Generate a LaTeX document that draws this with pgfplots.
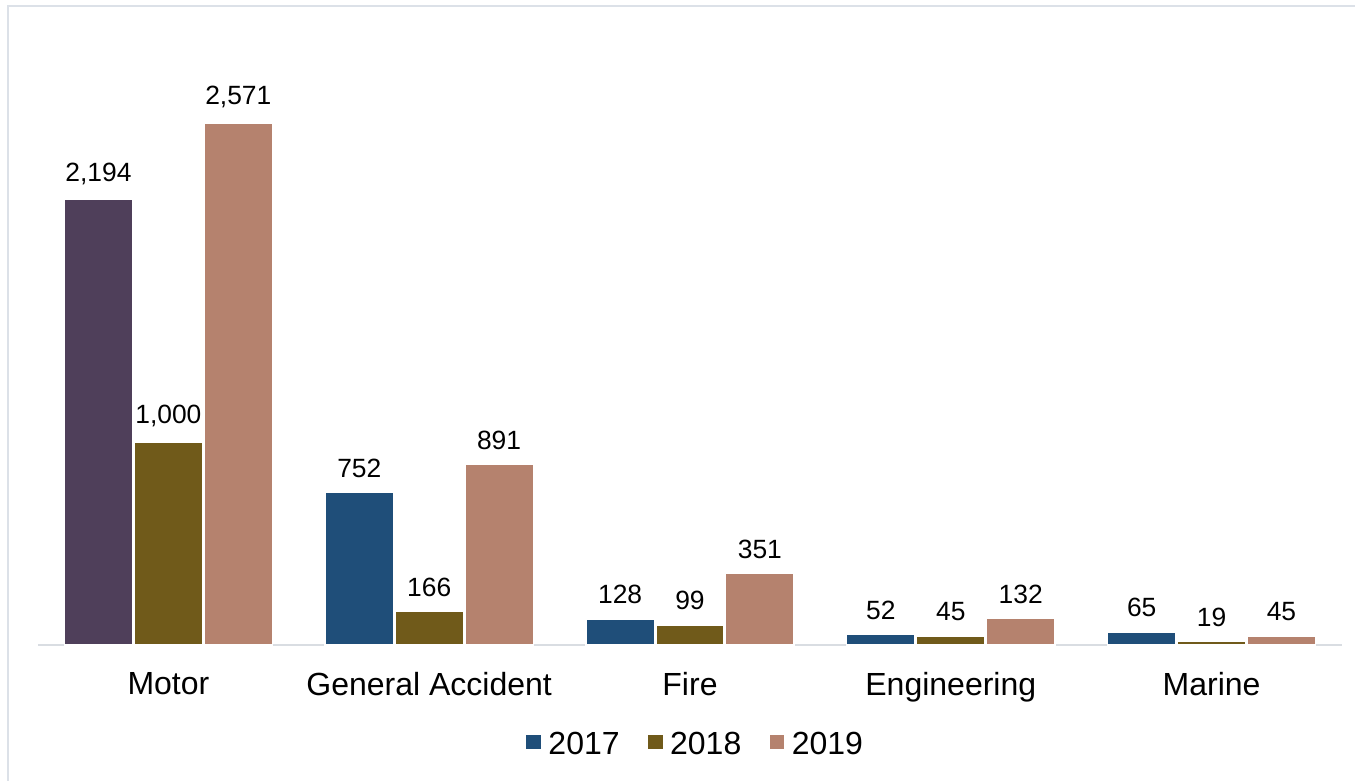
\documentclass[border=0pt]{standalone}
\usepackage{pgfplots}
\pgfplotsset{compat=1.18}
\usepackage{fontspec}
\setmainfont{Liberation Sans}
\definecolor{cblue}{HTML}{1F4E79}
\definecolor{cpurple}{HTML}{4F3F5A}
\definecolor{colive}{HTML}{705A1A}
\definecolor{cpink}{HTML}{B5826E}
\definecolor{cframe}{HTML}{DCE1E8}
\definecolor{caxis}{HTML}{D9DDE2}
\begin{document}
\begin{tikzpicture}
\useasboundingbox (-19pt,-68pt) rectangle (658.5pt,322.5pt);
\draw[cframe, line width=1pt] (-15pt,-68pt) -- (-15pt,319.5pt) -- (658.5pt,319.5pt);
\begin{axis}[
  at={(0pt,0pt)}, anchor=south west,
  scale only axis,
  width=652pt, height=292.5pt,
  xmin=-0.5, xmax=4.5,
  ymin=0, ymax=2881,
  ybar, bar width=0.262,
  axis x line=bottom, axis y line=none,
  x axis line style={caxis, line width=1pt, -},
  xtick={0,1,2,3,4},
  xticklabels={Motor, General Accident, Fire, Engineering, Marine},
  major tick length=0pt,
  xticklabel style={font=\fontsize{16}{19}\selectfont, inner sep=0pt, anchor=north, yshift=-13.5pt},
  /pgf/number format/assume math mode=true,
  /pgf/number format/1000 sep={,},
  nodes near coords,
  every node near coord/.append style={font=\fontsize{13.2}{15}\selectfont, inner sep=0pt, anchor=south, yshift=7pt, text=black},
  legend style={at={(rel axis cs:0.5,0)}, anchor=center, xshift=3pt, yshift=-50pt, draw=none, font=\fontsize{16}{19}\selectfont,
    legend columns=-1, /tikz/every even column/.append style={column sep=11.5pt},
    /tikz/every odd column/.append style={column sep=1pt}},
  legend image code/.code={\fill[#1] (0pt,-2.5pt) rectangle (8pt,5.5pt);},
  clip=false,
]
\addplot[fill=cpurple, draw=white, line width=0.75pt, bar shift=-0.268, forget plot] coordinates {(0,2194)};
\addplot[fill=cblue, draw=white, line width=0.75pt, bar shift=-0.268] coordinates {(1,752) (2,128) (3,52) (4,65)};
\addplot[fill=colive, draw=white, line width=0.75pt, bar shift=0] coordinates {(0,1000) (1,166) (2,99) (3,45) (4,19)};
\addplot[fill=cpink, draw=white, line width=0.75pt, bar shift=0.268] coordinates {(0,2571) (1,891) (2,351) (3,132) (4,45)};
\legend{2017, 2018, 2019}
\end{axis}
\end{tikzpicture}
\end{document}
